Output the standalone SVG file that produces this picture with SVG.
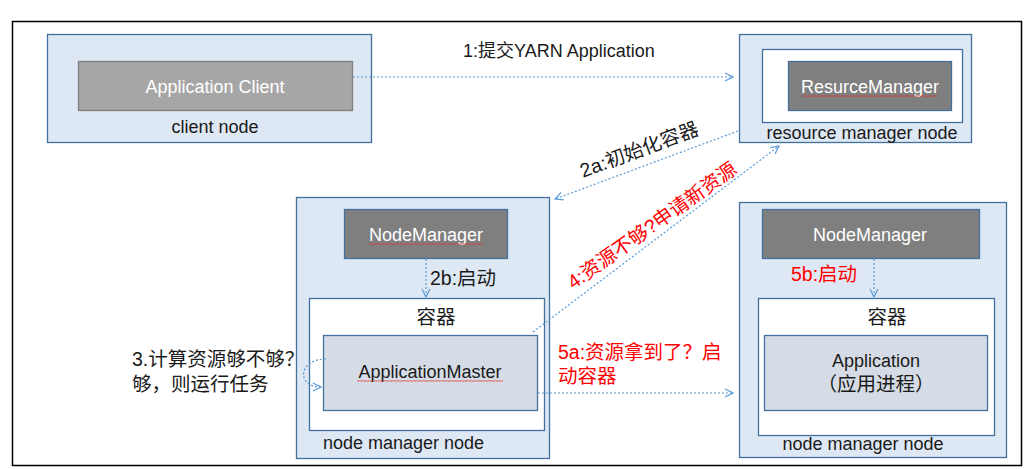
<svg xmlns="http://www.w3.org/2000/svg" width="1024" height="469" viewBox="0 0 1024 469">
<style>
text{font-family:"Liberation Sans","Noto Sans CJK SC",sans-serif;font-size:18px;fill:#1a1a1a}
.zh{font-size:19.5px}
.w{fill:#ffffff}
.r{fill:#ff0000}
.m{text-anchor:middle}
.node{fill:#dee8f4;stroke:#41719c;stroke-width:1.3}
.cont{fill:#ffffff;stroke:#41719c;stroke-width:1.3}
.dark{fill:#7f7f7f;stroke:#41719c;stroke-width:1.3}
.am{fill:#d6dce5;stroke:#41719c;stroke-width:1.3}
.conn{fill:none;stroke:#5b9bd5;stroke-width:1.2;stroke-dasharray:2 2;marker-end:url(#arr)}
.wave{fill:url(#wave)}
</style>
<defs>
<marker id="arr" viewBox="0 0 10 10" refX="9" refY="5" markerWidth="10" markerHeight="10" markerUnits="userSpaceOnUse" orient="auto">
<path d="M1,1 L9,5 L1,9" fill="none" stroke="#5b9bd5" stroke-width="1.2"/>
</marker>
<pattern id="wave" width="3" height="2" patternUnits="userSpaceOnUse">
<path d="M0,1.7 L0.75,0.3 L1.5,1.7 L2.25,0.3 L3,1.7" fill="none" stroke="#e03030" stroke-width="0.5"/>
</pattern>
</defs>
<rect width="1024" height="469" fill="#ffffff"/>
<rect x="12.5" y="21.5" width="1009" height="444" fill="none" stroke="#000000" stroke-width="1.5"/>

<g id="client-node">
<rect class="node" x="47.5" y="34.5" width="324" height="108"/>
<rect x="78.5" y="61.5" width="274" height="49" fill="#a6a6a6" stroke="#7f7f7f" stroke-width="1.3"/>
<text class="w m" x="215" y="93">Application Client</text>
<text class="m" x="215" y="133">client node</text>
</g>

<g id="resource-manager-node">
<rect class="node" x="739.5" y="34.5" width="232" height="108"/>
<rect class="cont" x="762.5" y="49.5" width="200" height="73"/>
<rect class="dark" x="788.5" y="61.5" width="163" height="49"/>
<text class="w m" x="870" y="93">ResurceManager</text>
<rect class="wave" x="802" y="95" width="135" height="2"/>
<text class="m" x="862" y="139">resource manager node</text>
</g>

<g id="node-manager-node-1">
<rect class="node" x="296.5" y="197.5" width="253" height="261"/>
<rect class="dark" x="344.5" y="209.5" width="163" height="49"/>
<text class="w m" x="426" y="241">NodeManager</text>
<rect class="wave" x="369" y="243" width="114" height="2"/>
<rect class="cont" x="309.5" y="298.5" width="235" height="132"/>
<text class="m zh" x="436" y="324">容器</text>
<rect class="am" x="323.5" y="335.5" width="214" height="75"/>
<text class="m" x="430" y="378">ApplicationMaster</text>
<rect class="wave" x="357" y="380" width="146" height="2"/>
<text x="323" y="449">node manager node</text>
</g>

<g id="node-manager-node-2">
<rect class="node" x="739.5" y="202.5" width="267" height="255"/>
<rect class="dark" x="762.5" y="209.5" width="217" height="49"/>
<text class="w m" x="870" y="241">NodeManager</text>
<rect class="cont" x="758.5" y="298.5" width="236" height="137"/>
<text class="m zh" x="887" y="324">容器</text>
<rect class="am" x="764.5" y="335.5" width="223" height="75"/>
<text class="m" x="876" y="367">Application</text>
<text class="m zh" x="876" y="391">（应用进程）</text>
<text class="m" x="863" y="450">node manager node</text>
</g>

<g id="connectors">
<line class="conn" x1="353" y1="77" x2="733" y2="77"/>
<line class="conn" x1="738" y1="131" x2="555" y2="199"/>
<line class="conn" x1="533" y1="332" x2="779" y2="146"/>
<line class="conn" x1="426" y1="259" x2="426" y2="297"/>
<line class="conn" x1="874" y1="259" x2="874" y2="297"/>
<line class="conn" x1="538" y1="393" x2="733" y2="393"/>
<path class="conn" d="M326,359 C298,359 296,387 321,387"/>
</g>

<g id="labels">
<text x="463" y="57">1:提交YARN Application</text>
<text class="m zh" transform="translate(641.5,156) rotate(-20.4)">2a:初始化容器</text>
<text class="m r zh" transform="translate(656,231) rotate(-35.5)">4:资源不够?申请新资源</text>
<text class="zh" x="430" y="285">2b:启动</text>
<text class="r zh" x="791" y="281">5b:启动</text>
<text class="r zh" x="558" y="359">5a:资源拿到了？启</text>
<text class="r zh" x="558" y="383">动容器</text>
<text class="zh" x="132" y="366">3.计算资源够不够？</text>
<text class="zh" x="132" y="391">够，则运行任务</text>
</g>
</svg>
